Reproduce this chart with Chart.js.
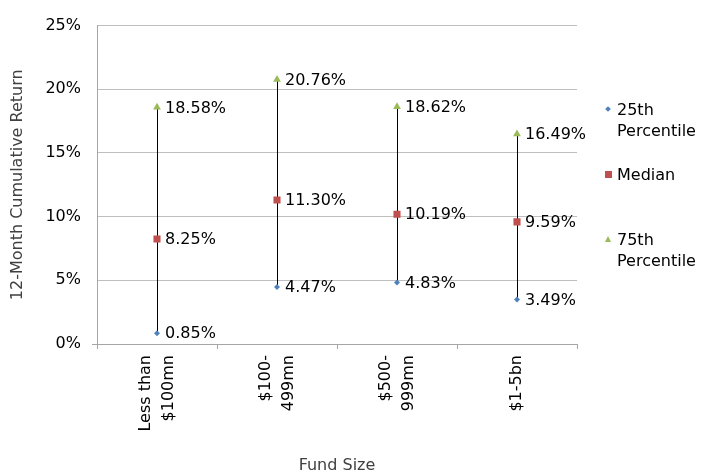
<!DOCTYPE html>
<html>
<head>
<meta charset="utf-8">
<script src="https://cdn.jsdelivr.net/npm/chart.js@4"></script>
<style>
  html,body{margin:0;padding:0;background:#fff;}
  #wrap{position:relative;width:719px;height:475px;}
  #legend{position:absolute;left:604px;top:0;font-family:"DejaVu Sans",sans-serif;font-size:16px;color:#000;}
  .item{position:absolute;left:0;white-space:nowrap;line-height:21px;}
  .txt{position:absolute;left:13px;}
  .mk{position:absolute;}
</style>
</head>
<body>
<div id="wrap">
  <canvas id="c" width="719" height="475"></canvas>
  <div id="legend"></div>
</div>
<script>
(function(){
  const categories = [['Less than','$100mn'], ['$100-','499mn'], ['$500-','999mn'], ['$1-5bn']];
  const p25 = [0.85, 4.47, 4.83, 3.49];
  const median = [8.25, 11.30, 10.19, 9.59];
  const p75 = [18.58, 20.76, 18.62, 16.49];
  const yTicks = [0, 5, 10, 15, 20, 25];

  const BLUE = '#4f81bd', RED = '#c0504d', GREEN = '#9bbb59';
  const FONT = '"DejaVu Sans", sans-serif';

  // value labels next to each marker
  const labelPlugin = {
    id: 'pointLabels',
    beforeDatasetDraw(chart, args){
      // keep the 1px hi-lo line crisp
      if(args.meta.type === 'bar'){ chart.ctx.save(); chart.ctx.translate(0.5, 0); }
    },
    afterDatasetDraw(chart, args){
      if(args.meta.type === 'bar') chart.ctx.restore();
    },
    afterDatasetsDraw(chart){
      const ctx = chart.ctx;
      ctx.save();
      ctx.font = '16px ' + FONT;
      ctx.fillStyle = '#000';
      ctx.textBaseline = 'middle';
      ctx.textAlign = 'left';
      chart.data.datasets.forEach((ds, di) => {
        if(ds.type === 'bar') return;
        const meta = chart.getDatasetMeta(di);
        meta.data.forEach((pt, i) => {
          ctx.fillText(ds.data[i].toFixed(2) + '%', pt.x + 8, pt.y + 1);
        });
      });
      ctx.restore();
    },
    afterDraw(chart){
      // rotated category labels, lines centred on the tick
      const sx = chart.scales.x;
      const ctx = chart.ctx;
      ctx.save();
      ctx.font = '16px ' + FONT;
      ctx.fillStyle = '#000';
      ctx.textAlign = 'right';
      ctx.textBaseline = 'middle';
      categories.forEach((lines, i) => {
        const x = sx.getPixelForTick(i);
        lines.forEach((ln, j) => {
          const lx = x + (j - (lines.length - 1) / 2) * 23;
          ctx.save();
          ctx.translate(lx, sx.top + 11);
          ctx.rotate(-Math.PI / 2);
          ctx.fillText(ln, 0, 0);
          ctx.restore();
        });
      });
      // x axis line runs a little past the y axis, as in the source
      ctx.strokeStyle = '#a6a6a6';
      ctx.lineWidth = 1;
      ctx.beginPath();
      ctx.moveTo(chart.chartArea.left - 5, Math.round(sx.top) + 0.5);
      ctx.lineTo(chart.chartArea.left, Math.round(sx.top) + 0.5);
      ctx.stroke();
      ctx.restore();
    }
  };

  new Chart(document.getElementById('c'), {
    type: 'bar',
    data: {
      labels: categories,
      datasets: [
        { type:'bar', label:'hilo', data: p25.map((v,i) => [v, p75[i]]), backgroundColor:'#000', barThickness:1, inflateAmount:0, order:5 },
        { type:'line', label:'25th Percentile', data:p25, showLine:false, pointStyle:'rectRot', pointRadius:3, pointBorderWidth:0, pointBackgroundColor:BLUE, borderColor:BLUE, order:1 },
        { type:'line', label:'Median', data:median, showLine:false, pointStyle:'rect', pointRadius:5, pointBorderWidth:0, pointBackgroundColor:RED, borderColor:RED, order:1 },
        { type:'line', label:'75th Percentile', data:p75, showLine:false, pointStyle:'triangle', pointRadius:4.5, pointBorderWidth:0, pointBackgroundColor:GREEN, borderColor:GREEN, order:1 }
      ]
    },
    options: {
      responsive:false,
      animation:false,
      events:[],
      layout:{ padding:{ left:0, right:142, top:23, bottom:0 } },
      plugins:{ legend:{display:false}, tooltip:{enabled:false} },
      scales:{
        x:{
          offset:true,
          grid:{ offset:true, drawOnChartArea:false, drawTicks:true, tickLength:5, color:'#a6a6a6' },
          border:{ color:'#a6a6a6' },
          ticks:{ display:false },
          title:{ display:true, text:'Fund Size', color:'#404040', font:{ family:FONT, size:16 }, padding:{top:0,bottom:0} },
          afterFit(s){ s.height = 131; }
        },
        y:{
          min:0, max:25,
          afterBuildTicks(s){ s.ticks = yTicks.map(v => ({ value:v })); },
          grid:{ color:'#bfbfbf', drawTicks:false },
          border:{ color:'#a6a6a6' },
          ticks:{ padding:16, color:'#000', font:{ family:FONT, size:16 }, callback:v => v + '%' },
          title:{ display:true, text:'12-Month Cumulative Return', color:'#404040', font:{ family:FONT, size:16 }, padding:{top:8,bottom:0} },
          afterFit(s){ s.width = 97; }
        }
      }
    },
    plugins:[labelPlugin]
  });

  // legend on the right, drawn as html
  const legendItems = [
    { lines:['25th','Percentile'], color:BLUE, shape:'diamond', top:99 },
    { lines:['Median'], color:RED, shape:'square', top:164 },
    { lines:['75th','Percentile'], color:GREEN, shape:'triangle', top:229 }
  ];
  const lg = document.getElementById('legend');
  legendItems.forEach(it => {
    const d = document.createElement('div');
    d.className = 'item';
    d.style.top = it.top + 'px';
    let mk = '';
    if(it.shape === 'diamond') mk = `<div class="mk" style="left:2px;top:8px;width:4px;height:4px;background:${it.color};transform:rotate(45deg)"></div>`;
    else if(it.shape === 'square') mk = `<div class="mk" style="left:1px;top:7px;width:7px;height:7px;background:${it.color}"></div>`;
    else mk = `<div class="mk" style="left:1px;top:7px;width:0;height:0;border-left:3.5px solid transparent;border-right:3.5px solid transparent;border-bottom:6px solid ${it.color}"></div>`;
    d.innerHTML = mk + `<div class="txt">${it.lines.join('<br>')}</div>`;
    lg.appendChild(d);
  });
})();
</script>
</body>
</html>
